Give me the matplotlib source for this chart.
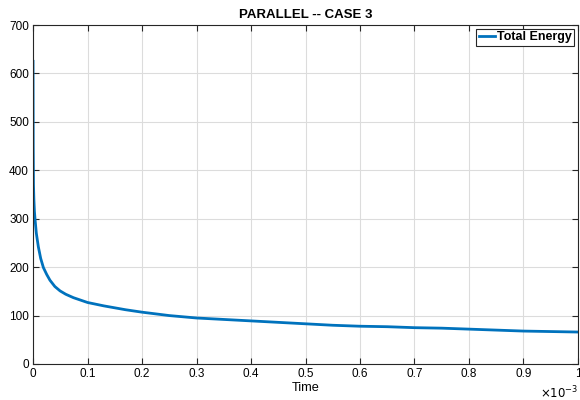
import matplotlib
matplotlib.use("Agg")
import matplotlib.pyplot as plt
from matplotlib.ticker import MultipleLocator, FuncFormatter

plt.rcParams['font.family'] = ['Liberation Sans', 'DejaVu Sans']

# time (x 1e-3 s) and total energy
time = [0.0, 0.0003, 0.0008, 0.0015, 0.0025, 0.0037, 0.006, 0.0097, 0.014,
        0.019, 0.025, 0.031, 0.04, 0.0495, 0.06, 0.074, 0.1, 0.13, 0.17,
        0.2, 0.25, 0.3, 0.35, 0.4, 0.45, 0.5, 0.55, 0.6, 0.65, 0.7, 0.75,
        0.8, 0.85, 0.9, 0.95, 1.0]
energy = [625, 450, 370, 340, 315, 298, 270, 242, 218,
          199, 185, 173, 160, 151, 144, 137, 127, 120, 112,
          107, 100, 95, 92, 89, 86, 83, 80, 78, 77, 75, 74,
          72, 70, 68, 67, 66]
x_ticks = [0, 0.1, 0.2, 0.3, 0.4, 0.5, 0.6, 0.7, 0.8, 0.9, 1.0]
time_s = [t * 1e-3 for t in time]

fig = plt.figure(figsize=(5.8, 4.0), dpi=100)
ax = fig.add_axes([0.057, 0.09, 0.9395, 0.8475])
ax.plot(time_s, energy, color='#0072BD', linewidth=2.0, label='Total Energy')

ax.set_xlim(0, 1e-3)
ax.set_ylim(0, 700)
ax.set_xticks([t * 1e-3 for t in x_ticks])
ax.xaxis.set_major_formatter(FuncFormatter(lambda v, p: '%g' % round(v * 1e3, 6)))
ax.yaxis.set_major_locator(MultipleLocator(100))

ax.grid(True, color='#dcdcdc', linewidth=0.8)
ax.set_axisbelow(True)
for s in ax.spines.values():
    s.set_color('#262626')
    s.set_linewidth(0.8)
ax.tick_params(direction='in', top=True, right=True, length=4, width=0.8,
               colors='#262626', labelsize=8.5, labelcolor='black', pad=3)

ax.text(1.0, -0.06, r'$\times10^{-3}$', transform=ax.transAxes,
        ha='right', va='top', fontsize=8.5)

ax.set_xlabel('Time', fontsize=9.2, labelpad=1)
ax.set_title('PARALLEL -- CASE 3', fontsize=9.5, fontweight='bold', pad=5)

leg = ax.legend(loc='upper right', fancybox=False, edgecolor='#262626',
                prop={'weight': 'bold', 'size': 9}, handlelength=1.3,
                handletextpad=0.15, borderpad=0.2, borderaxespad=0.3,
                framealpha=1)
leg.get_frame().set_linewidth(0.8)

fig.savefig('out.png', dpi=100)
